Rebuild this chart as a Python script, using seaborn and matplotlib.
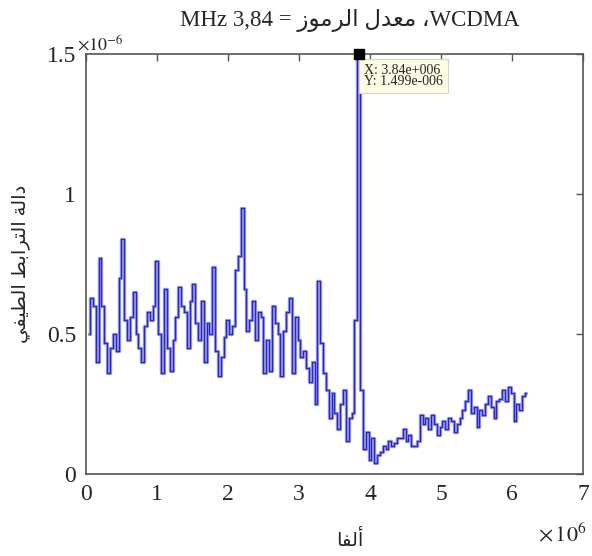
import numpy as np
import matplotlib
matplotlib.use('Agg')
import matplotlib.pyplot as plt
from matplotlib.ticker import FormatStrFormatter
import seaborn as sns

# spectral correlation function, in units of 1e-6
# sampled every 0.04 (x 10^6) from 0.04 to 6.20
scf_a = [0.50, 0.63, 0.60, 0.40, 0.77, 0.60, 0.47, 0.36, 0.45, 0.50,
         0.44, 0.70, 0.84, 0.55, 0.48, 0.56, 0.65, 0.50, 0.45, 0.40,
         0.53, 0.58, 0.55, 0.60, 0.76, 0.50, 0.36, 0.66, 0.45, 0.37,
         0.48, 0.56, 0.67, 0.60, 0.58, 0.45, 0.62, 0.68, 0.54, 0.48,
         0.62, 0.40, 0.54, 0.50, 0.74, 0.44, 0.35, 0.42, 0.49, 0.55]
scf_b = [0.50, 0.53, 0.73, 0.78, 0.95, 0.66, 0.51, 0.55, 0.62, 0.48,
         0.58, 0.56, 0.36, 0.48, 0.37, 0.60, 0.54, 0.50, 0.35, 0.51,
         0.58, 0.63, 0.36, 0.56, 0.48, 0.42, 0.44, 0.38, 0.33, 0.40,
         0.25, 0.69, 0.47, 0.36, 0.30, 0.20, 0.29, 0.22, 0.16, 0.25,
         0.30, 0.12, 0.20, 0.22, 0.55, 1.499, 0.30, 0.09, 0.15, 0.05]
scf_c = [0.13, 0.04, 0.07, 0.08, 0.10, 0.09, 0.12, 0.10, 0.11, 0.13,
         0.13, 0.16, 0.12, 0.14, 0.10, 0.10, 0.12, 0.21, 0.18, 0.20,
         0.16, 0.21, 0.18, 0.14, 0.17, 0.19, 0.16, 0.20, 0.19, 0.15,
         0.18, 0.20, 0.23, 0.26, 0.30, 0.22, 0.24, 0.17, 0.23, 0.21,
         0.25, 0.28, 0.24, 0.20, 0.26, 0.27, 0.30, 0.26, 0.31, 0.29,
         0.19, 0.25, 0.23, 0.28, 0.29]

peak_x = 3.84
peak_y = 1.499
x_ticks = [0, 1, 2, 3, 4, 5, 6, 7]
y_ticks = [0, 0.5, 1, 1.5]

# arabic text, pre-shaped (presentation forms) in visual order
title = ('MHz 3,84 = \uFEAF\uFEEE\uFEE3\uFEAE\uFEDF\uFE8D '
         '\uFEDD\uFEAA\uFECC\uFEE3 \u060CWCDMA')
ylabel = ('\uFEF2\uFED4\uFEF4\uFEC4\uFEDF\uFE8D '
          '\uFEC2\uFE91\uFE8D\uFEAE\uFE98\uFEDF\uFE8D '
          '\uFE94\uFEDF\uFE8D\uFEA9')
xlabel = '\uFE8E\uFED4\uFEDF\uFE83'

scf = np.array(scf_a + scf_b + scf_c)
alpha_mhz = np.arange(1, len(scf) + 1) * 0.04

sns.set_style('white')
plt.rcParams['font.family'] = ['Liberation Serif', 'DejaVu Sans']
plt.rcParams['mathtext.fontset'] = 'stix'

fig = plt.figure(figsize=(5.92, 5.56), dpi=100)
ax = fig.add_axes([0.145, 0.147, 0.840, 0.756])

# blurry look of the original: wide pale line plus thin blue line
sns.lineplot(x=alpha_mhz, y=scf, ax=ax, drawstyle='steps-mid',
             color='#9a9ad8', linewidth=2.4)
sns.lineplot(x=alpha_mhz, y=scf, ax=ax, drawstyle='steps-mid',
             color='#2626d0', linewidth=0.9)

ax.set_xlim(0, 7)
ax.set_ylim(0, 1.5)
ax.set_xticks(x_ticks)
ax.set_yticks(y_ticks)
ax.yaxis.set_major_formatter(FormatStrFormatter('%g'))
ax.tick_params(direction='in', top=True, right=True, length=5, width=1,
               color='#555555', labelsize=17, pad=7)
for s in ax.spines.values():
    s.set_color('#555555')
    s.set_linewidth(1.2)

# data tip
ax.plot([peak_x], [1.5], marker='s', color='black', markersize=7,
        clip_on=False, zorder=5)
ax.text(3.92, 1.465, 'X: 3.84e+006\nY: 1.499e-006', fontsize=10,
        linespacing=0.85, va='top', ha='left',
        bbox=dict(boxstyle='square,pad=0.35', facecolor='#fdfde6',
                  edgecolor='#d6d6c0', linewidth=0.8))

ax.text(-0.018, 1.0, r'$\times10^{-6}$', transform=ax.transAxes,
        fontsize=13, ha='left', va='bottom')
ax.text(0.91, -0.145, r'$\times\,10^{6}$', transform=ax.transAxes,
        fontsize=16, ha='left', va='center')

ax.set_title(title, fontsize=16.5, pad=20, x=0.53)
ax.set_xlabel(xlabel, fontsize=14, labelpad=18, x=0.53)
ax.set_ylabel(ylabel, fontsize=14, labelpad=12)

fig.savefig('out.png', dpi=100)
